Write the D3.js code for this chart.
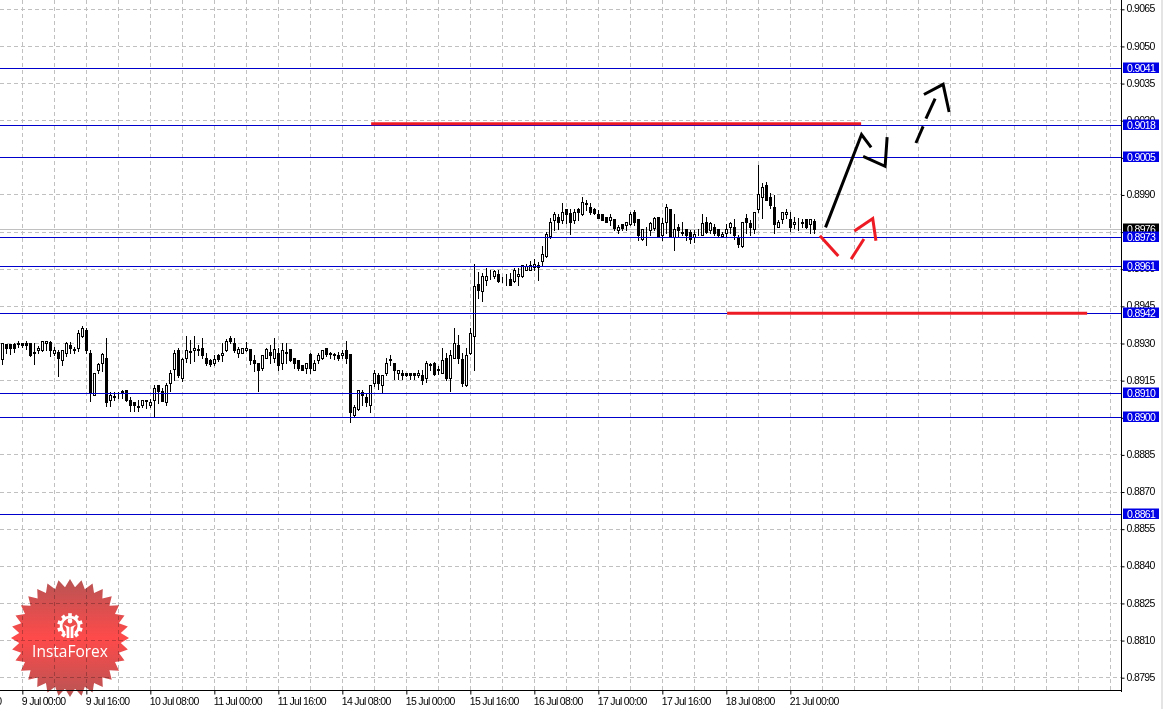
<!DOCTYPE html>
<html><head><meta charset="utf-8">
<script src="https://cdn.jsdelivr.net/npm/d3@7"></script>
<style>html,body{margin:0;padding:0;background:#fff;overflow:hidden}svg{display:block}</style>
</head><body><svg id="c" width="1164" height="709"></svg>
<script>
// Hourly candles, in pips (price x 10000)
const openPips=[8923.4,8929.4,8929.4,8929.4,8929.8,8930.1,8930.1,8930.1,8926.3,8927.1,
8927.1,8930.1,8930.4,8925.9,8926.2,8923.1,8925.9,8929.3,8927.4,8927.8,
8932.8,8935.1,8926.1,8909.0,8919.1,8921.8,8924.0,8907.0,8908.2,8908.9,
8910.6,8911.1,8906.8,8906.3,8904.6,8904.8,8906.8,8904.8,8907.0,8913.2,
8910.5,8906.2,8914.0,8919.3,8927.1,8915.7,8924.0,8926.5,8927.1,8927.4,
8928.1,8924.0,8923.1,8921.8,8925.1,8925.1,8927.1,8932.2,8930.1,8925.8,
8926.1,8927.1,8927.4,8923.1,8922.0,8919.7,8924.0,8926.3,8924.0,8926.1,
8922.0,8926.1,8927.4,8924.0,8923.2,8921.1,8919.7,8925.4,8919.1,8923.1,
8924.0,8928.1,8925.5,8925.1,8925.2,8925.1,8927.1,8925.4,8900.9,8903.2,
8910.3,8908.3,8905.0,8913.7,8917.1,8913.0,8917.7,8923.1,8922.0,8918.0,
8918.0,8918.0,8918.0,8918.0,8917.2,8917.2,8915.7,8921.1,8922.0,8919.3,
8918.0,8924.0,8915.7,8924.0,8929.3,8923.4,8913.0,8926.1,8932.8,8953.9,
8950.9,8955.6,8957.8,8957.0,8958.0,8955.7,8957.0,8956.0,8954.9,8957.0,
8957.0,8959.6,8959.6,8960.7,8960.7,8963.0,8965.0,8973.1,8979.8,8980.9,
8979.8,8984.1,8982.5,8979.8,8984.1,8982.1,8986.3,8984.9,8984.2,8982.2,
8982.2,8980.9,8979.8,8980.1,8975.8,8978.2,8977.8,8978.1,8982.9,8980.1,
8972.1,8974.8,8975.8,8976.5,8981.0,8973.6,8978.8,8984.3,8972.9,8976.9,
8974.6,8976.1,8974.9,8972.9,8974.8,8973.8,8979.0,8975.8,8976.9,8976.1,
8973.2,8974.5,8976.9,8976.9,8972.9,8969.1,8980.3,8978.3,8976.1,8984.2,
8988.9,8994.0,8989.0,8985.0,8976.9,8980.1,8982.2,8980.1,8977.9,8978.5,
8978.8,8980.1,8977.9,8979.2];
const highPips=[8930.1,8929.4,8929.4,8930.1,8931.2,8930.1,8931.2,8930.1,8930.1,8929.0,
8930.8,8930.8,8931.2,8928.7,8927.4,8927.4,8930.8,8930.8,8928.7,8935.5,
8937.1,8936.1,8927.4,8918.0,8922.0,8926.1,8932.1,8910.6,8910.3,8910.3,
8911.3,8911.1,8908.3,8906.3,8907.2,8907.1,8907.1,8907.6,8913.3,8913.2,
8912.0,8914.0,8919.1,8927.4,8928.1,8924.0,8933.0,8931.4,8933.0,8929.4,
8932.1,8926.1,8923.6,8925.4,8925.7,8930.1,8931.7,8933.0,8932.1,8928.7,
8928.1,8930.8,8927.4,8925.4,8922.0,8925.1,8928.1,8929.4,8932.1,8928.1,
8930.1,8930.1,8927.4,8924.0,8923.2,8921.1,8922.0,8926.1,8923.4,8926.1,
8927.4,8928.1,8926.5,8926.1,8926.7,8927.4,8931.0,8925.4,8905.2,8911.1,
8911.1,8909.7,8913.0,8919.3,8918.0,8917.3,8924.0,8925.4,8922.0,8919.3,
8919.1,8918.0,8918.0,8918.0,8919.3,8919.3,8923.1,8922.0,8922.7,8921.0,
8928.1,8926.1,8927.4,8936.1,8933.5,8926.1,8928.1,8936.1,8962.1,8959.0,
8958.3,8960.3,8959.6,8959.6,8959.6,8957.0,8958.0,8958.3,8960.3,8960.3,
8961.7,8962.1,8963.3,8964.3,8963.0,8969.3,8975.1,8980.5,8983.2,8982.2,
8986.9,8984.5,8984.5,8984.5,8984.9,8989.0,8988.1,8986.9,8984.9,8983.8,
8982.5,8980.9,8982.2,8980.1,8977.8,8978.2,8978.9,8983.2,8983.8,8980.1,
8976.1,8976.9,8979.2,8981.0,8981.0,8980.5,8986.3,8984.3,8982.3,8978.3,
8979.2,8976.1,8975.8,8975.8,8976.1,8982.3,8981.2,8979.2,8978.3,8976.1,
8975.2,8978.3,8979.2,8980.3,8973.8,8978.9,8982.3,8979.9,8983.0,9002.0,
8994.7,8995.1,8990.6,8990.0,8979.9,8983.0,8984.2,8983.2,8981.2,8980.5,
8980.3,8980.1,8980.1,8980.3];
const lowPips=[8921.8,8926.1,8925.8,8926.7,8928.7,8928.7,8927.7,8925.1,8921.8,8926.1,
8927.1,8927.4,8925.1,8925.4,8916.9,8921.4,8925.1,8926.1,8926.1,8927.1,
8932.8,8926.1,8906.8,8909.0,8918.0,8918.7,8904.8,8904.8,8907.0,8907.9,
8907.9,8906.8,8902.9,8902.9,8902.9,8904.3,8904.0,8904.3,8900.9,8905.9,
8906.6,8905.0,8911.0,8915.3,8916.6,8915.0,8922.7,8922.0,8923.1,8925.4,
8924.0,8921.4,8921.1,8921.4,8923.1,8923.1,8927.1,8930.1,8926.7,8924.7,
8926.1,8927.1,8921.8,8918.7,8911.0,8919.3,8924.0,8922.0,8922.7,8919.1,
8919.6,8922.0,8923.1,8920.0,8919.3,8919.1,8918.0,8918.0,8919.1,8922.0,
8923.6,8925.1,8924.0,8923.6,8923.4,8924.0,8922.0,8898.1,8900.9,8903.2,
8905.0,8904.6,8902.5,8913.0,8911.7,8909.9,8917.1,8921.4,8915.6,8915.6,
8915.7,8916.9,8915.7,8915.6,8916.4,8913.7,8914.6,8919.1,8917.3,8917.7,
8918.0,8915.3,8911.0,8924.0,8922.0,8913.0,8913.0,8925.8,8919.1,8948.2,
8947.1,8953.6,8955.9,8956.3,8954.9,8954.7,8953.6,8953.6,8954.9,8953.6,
8957.0,8959.6,8959.6,8959.6,8955.6,8961.7,8965.0,8972.8,8975.8,8976.4,
8978.5,8978.5,8974.4,8978.5,8979.8,8982.1,8983.8,8982.5,8982.2,8980.5,
8979.8,8978.9,8977.8,8975.8,8974.7,8976.0,8976.0,8977.8,8977.8,8971.7,
8971.8,8969.8,8973.8,8975.8,8972.9,8971.8,8974.5,8972.9,8967.8,8972.9,
8973.8,8971.8,8970.7,8971.1,8973.8,8973.8,8974.5,8974.5,8973.8,8972.9,
8972.9,8972.9,8974.5,8972.1,8968.9,8969.1,8974.8,8973.8,8974.5,8983.0,
8980.8,8987.9,8984.8,8974.8,8976.9,8978.5,8980.5,8975.6,8976.8,8975.8,
8976.9,8976.8,8974.8,8974.8];
const closePips=[8930.1,8927.8,8927.8,8927.8,8929.4,8929.2,8929.2,8925.1,8926.1,8928.1,
8930.8,8930.8,8927.1,8927.1,8923.9,8927.1,8930.1,8927.8,8927.1,8934.1,
8936.1,8927.1,8909.9,8918.0,8921.4,8925.4,8906.2,8909.1,8908.5,8909.1,
8910.2,8906.8,8904.8,8904.8,8904.3,8907.1,8906.6,8906.3,8912.0,8910.7,
8906.6,8913.2,8918.0,8926.1,8917.1,8923.4,8927.1,8926.7,8928.1,8927.1,
8925.1,8921.8,8921.4,8923.5,8923.6,8926.1,8930.8,8930.8,8927.1,8927.4,
8928.1,8928.1,8923.1,8922.0,8919.1,8925.1,8927.4,8925.1,8927.4,8921.1,
8927.1,8926.3,8923.1,8922.0,8919.7,8919.1,8922.0,8920.0,8922.0,8925.1,
8927.1,8925.7,8925.8,8925.4,8924.0,8926.1,8923.8,8902.1,8904.3,8911.1,
8909.0,8906.2,8913.0,8918.0,8913.7,8917.1,8922.0,8923.4,8919.1,8919.1,
8917.1,8917.2,8917.2,8917.2,8918.0,8915.0,8922.0,8921.4,8917.3,8919.1,
8923.1,8915.7,8925.1,8930.1,8924.0,8913.7,8925.1,8934.1,8953.2,8951.6,
8957.0,8957.0,8958.0,8959.2,8954.9,8956.0,8957.2,8953.6,8959.6,8958.0,
8961.7,8961.0,8961.7,8962.1,8961.7,8966.1,8974.0,8978.9,8982.2,8978.9,
8982.9,8982.1,8978.9,8982.9,8982.8,8986.9,8986.5,8982.8,8982.5,8980.5,
8979.8,8978.9,8980.9,8976.4,8976.8,8976.4,8978.9,8982.2,8978.9,8973.8,
8976.1,8974.9,8978.3,8980.3,8972.9,8978.3,8985.0,8972.9,8976.1,8975.8,
8974.9,8973.8,8972.1,8974.2,8975.0,8978.3,8974.8,8978.3,8974.5,8973.8,
8974.2,8976.1,8978.3,8973.8,8969.8,8978.9,8978.8,8976.8,8983.0,8990.2,
8993.0,8987.9,8985.9,8977.9,8978.9,8983.0,8983.0,8976.8,8978.9,8978.3,
8978.5,8976.8,8980.1,8976.2];

const priceTicks=[8795,8810,8825,8840,8855,8870,8885,8900,8915,8930,8945,8960,8975,8990,9005,9020,9035,9050,9065];
const levelPips=[9041,9018,9005,8973,8961,8942,8910,8900,8861];
const bidPips=8976;
const timeIndex=[-11,5,21,37,53,69,85,101,117,133,149,165,181,197];
const timeLabels=["8 Jul 08:00","9 Jul 00:00","9 Jul 16:00","10 Jul 08:00","11 Jul 00:00","11 Jul 16:00","14 Jul 08:00","15 Jul 00:00","15 Jul 16:00","16 Jul 08:00","17 Jul 00:00","17 Jul 16:00","18 Jul 08:00","21 Jul 00:00"];

// Hand-drawn marks on the chart, as [bar index, pips]
const redLevels=[[[92.2,9018.8],[214.7,9018.8]],[[181.2,8942.2],[271.2,8942.2]]];
const blackArrows=[
 [[205.8,8976.9],[214.8,9014.4],[217.2,9009.2]],
 [[215.2,9005.6],[220.7,9001.6],[221.2,9013.4]],
 [[228.4,9011.0],[230.2,9017.7]],
 [[230.9,9020.8],[233.2,9028.9]],
 [[230.4,9030.6],[235.2,9034.7],[236.7,9023.5]]];
const redArrows=[
 [[204.4,8973.5],[209,8965.3]],
 [[212.2,8964.1],[215.4,8972.2]],
 [[213,8975.4],[217.6,8980.5],[218.4,8971.5]]];

const W=1164,H=709,axisX=1122,axisY=691;
const svg=d3.select("#c");
const FONT="'Liberation Sans',Arial,sans-serif";
const x=d3.scaleLinear().domain([0,204]).range([2.33,818.33]);
const y=d3.scaleLinear().domain([8795,9065]).range([677.7,9.3]);
const px=v=>Math.floor(x(v))+0.5;
const py=v=>Math.floor(y(v))+0.5;
const fmt=v=>(v/10000).toFixed(4);

// Grid
const gridBars=d3.range(5,280,8).filter(i=>x(i)<axisX-2);
const grid=svg.append("g").attr("stroke","#c0c0c0").attr("stroke-dasharray","4 3").attr("stroke-width",1);
grid.selectAll(".h").data(priceTicks).join("line").attr("x1",0).attr("x2",axisX).attr("y1",py).attr("y2",py);
grid.selectAll(".v").data(gridBars).join("line").attr("x1",px).attr("x2",px).attr("y1",0).attr("y2",axisY);

// Bid line
svg.append("line").attr("x1",0).attr("x2",axisX).attr("y1",py(bidPips)).attr("y2",py(bidPips)).attr("stroke","#c0c0c0");

// Candles
const g=svg.append("g");
const idx=d3.range(openPips.length);
g.selectAll(".w").data(idx).join("line")
 .attr("x1",i=>px(i)).attr("x2",i=>px(i))
 .attr("y1",i=>Math.round(y(highPips[i]))).attr("y2",i=>Math.round(y(lowPips[i]))+1)
 .attr("stroke","#000");
g.selectAll(".b").data(idx).join("rect")
 .attr("x",i=>px(i)-1).attr("width",2)
 .attr("y",i=>py(Math.max(openPips[i],closePips[i])))
 .attr("height",i=>Math.max(0,py(Math.min(openPips[i],closePips[i]))-py(Math.max(openPips[i],closePips[i]))))
 .attr("fill",i=>closePips[i]>=openPips[i]?"#fff":"#000")
 .attr("stroke","#000").attr("stroke-width",1);

// Levels
svg.append("g").selectAll("line").data(levelPips).join("line")
 .attr("x1",0).attr("x2",axisX).attr("y1",py).attr("y2",py).attr("stroke","#0000cd");

// Drawn lines and arrows
const line=d3.line().x(d=>x(d[0])).y(d=>y(d[1]));
svg.append("g").selectAll("path").data(redLevels).join("path").attr("d",line)
 .attr("fill","none").attr("stroke","#ed1c24").attr("stroke-width",3);
svg.append("g").selectAll("path").data(blackArrows).join("path").attr("d",line)
 .attr("fill","none").attr("stroke","#000").attr("stroke-width",3).attr("stroke-linejoin","miter");
svg.append("g").selectAll("path").data(redArrows).join("path").attr("d",line)
 .attr("fill","none").attr("stroke","#ed1c24").attr("stroke-width",3).attr("stroke-linejoin","miter");

// Axes
const ay=svg.append("g").attr("transform",`translate(${axisX-0.5},0)`)
 .call(d3.axisRight(y).tickValues(priceTicks).tickFormat(fmt).tickSize(3).tickPadding(2));
ay.select(".domain").attr("d",`M0,0V${axisY+1}`).attr("stroke","#000");
ay.selectAll(".tick line").attr("stroke","#000");
ay.selectAll("text").attr("font-family",FONT).attr("font-size",10.5).attr("letter-spacing","-0.65px").attr("fill","#000").attr("dy","0.25em");
const ax=svg.append("g").attr("transform",`translate(-1,${axisY-0.5})`)
 .call(d3.axisBottom(x).tickValues(timeIndex).tickFormat((d,i)=>timeLabels[i]).tickSize(4).tickPadding(3));
ax.select(".domain").attr("d",`M1,0H${axisX+1}`).attr("stroke","#000");
ax.selectAll(".tick line").attr("stroke","#000").attr("x1",1).attr("x2",1);
ax.selectAll("text").attr("font-family",FONT).attr("font-size",10.5).attr("letter-spacing","-0.7px").attr("fill","#000").attr("text-anchor","start");

// Price tags
function tag(v,col){
 const cy=py(v)-1;
 svg.append("rect").attr("x",axisX+1).attr("y",cy-5).attr("width",36).attr("height",10.5).attr("fill",col);
 svg.append("text").attr("x",axisX+5).attr("y",cy+4).text(fmt(v)).attr("font-family",FONT).attr("font-size",10.5)
  .attr("letter-spacing","-0.65px").attr("fill","#fff");
}
tag(bidPips,"#000");
levelPips.forEach(v=>tag(v,"#0000e6"));

// Window edge
svg.append("line").attr("x1",W-2).attr("x2",W-2).attr("y1",0).attr("y2",H).attr("stroke","#e4e4e4").attr("stroke-width",2);

// Logo
const cx=70,cy=638,spikes=32;
const defs=svg.append("defs");
const lg=defs.append("linearGradient").attr("id","lg").attr("x1",0).attr("x2",0).attr("y1",0).attr("y2",1);
[[0,"#b85454"],[0.5,"#ff4a4a"],[1,"#b85454"]].forEach(s=>lg.append("stop").attr("offset",s[0]).attr("stop-color",s[1]));
const star=d3.lineRadial().angle(d=>d[0]).radius(d=>d[1]).curve(d3.curveLinearClosed);
const pts=d3.range(spikes*2).map(i=>[i*Math.PI/spikes,i%2?51:59]);
const logo=svg.append("g").attr("transform",`translate(${cx},${cy})`);
logo.append("path").attr("d",star(pts)).attr("fill","url(#lg)").style("mix-blend-mode","multiply");
const gear=logo.append("g").attr("transform","translate(0,-12)").attr("fill","#fff");
gear.append("path").attr("d",d3.arc().innerRadius(7.5).outerRadius(10.2).startAngle(Math.PI*1.2-2*Math.PI).endAngle(Math.PI*0.8)());
d3.range(9).forEach(i=>{const a=-144+i*36;
 gear.append("rect").attr("x",-1.8).attr("y",-12.8).attr("width",3.6).attr("height",4).attr("transform",`rotate(${a})`);});
gear.append("circle").attr("cy",-5).attr("r",2.4);
gear.append("path").attr("d","M-6.5,-1.5 C-4,1 -3.4,1.5 -3.4,3.5 V12 H-0.6 V1 Z M6.5,-1.5 C4,1 3.4,1.5 3.4,3.5 V12 H0.6 V1 Z");
logo.append("text").attr("x",0).attr("y",19).attr("text-anchor","middle").text("InstaForex")
 .attr("font-family","'Open Sans',sans-serif").attr("font-size",15.5).attr("fill","#fff");
</script></body></html>
